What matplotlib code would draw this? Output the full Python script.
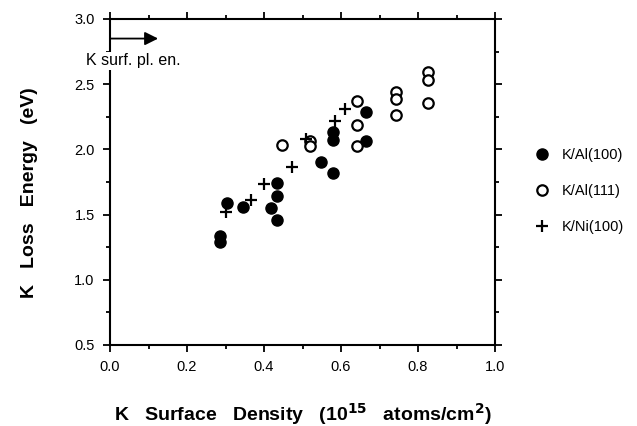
import matplotlib
matplotlib.use("Agg")
import matplotlib.pyplot as plt
from matplotlib.ticker import MultipleLocator, FormatStrFormatter

plt.rcParams['font.family'] = ['Liberation Sans', 'DejaVu Sans']

# K/Al(100): filled circles
al100_x = [0.286, 0.286, 0.303, 0.346, 0.418, 0.433, 0.433, 0.433,
           0.547, 0.578, 0.578, 0.578, 0.665, 0.665]
al100_y = [1.336, 1.292, 1.587, 1.561, 1.548, 1.745, 1.643, 1.459,
           1.903, 1.817, 2.136, 2.072, 2.285, 2.064]

# K/Al(111): open circles
al111_x = [0.448, 0.519, 0.519, 0.641, 0.641, 0.641, 0.742, 0.742, 0.742,
           0.827, 0.827, 0.827]
al111_y = [2.031, 2.065, 2.026, 2.371, 2.187, 2.026, 2.443, 2.384, 2.264,
           2.596, 2.532, 2.358]

# K/Ni(100): plus signs
ni100_x = [0.301, 0.365, 0.400, 0.472, 0.509, 0.584, 0.610]
ni100_y = [1.523, 1.612, 1.732, 1.863, 2.082, 2.218, 2.310]

surf_plasmon = 2.85  # K surface plasmon energy marker
labels = ['K/Al(100)', 'K/Al(111)', 'K/Ni(100)']

fig = plt.figure(figsize=(6.37, 4.26), dpi=100)
ax = fig.add_axes([110 / 637, 1 - 345 / 426, 385 / 637, 326 / 426])

ax.plot(al100_x, al100_y, 'o', color='black', ms=8, label=labels[0])
ax.plot(al111_x, al111_y, 'o', mfc='white', mec='black', mew=1.6, ms=7.5,
        label=labels[1])
ax.plot(ni100_x, ni100_y, '+', color='black', mew=1.6, ms=9, label=labels[2])

ax.annotate('', xy=(0.125, surf_plasmon), xytext=(0.0, surf_plasmon),
            arrowprops=dict(arrowstyle='-|>', color='black', lw=1.3,
                            mutation_scale=20, shrinkA=0, shrinkB=0))
ax.text(-0.062, 2.678, 'K surf. pl. en.', fontsize=11.5, ha='left', va='center',
        clip_on=False, zorder=5,
        bbox=dict(facecolor='white', edgecolor='none', pad=1))

ax.set_xlim(0.0, 1.0)
ax.set_ylim(0.5, 3.0)
ax.xaxis.set_major_locator(MultipleLocator(0.2))
ax.xaxis.set_minor_locator(MultipleLocator(0.1))
ax.yaxis.set_major_locator(MultipleLocator(0.5))
ax.yaxis.set_minor_locator(MultipleLocator(0.25))
ax.xaxis.set_major_formatter(FormatStrFormatter('%.1f'))
ax.yaxis.set_major_formatter(FormatStrFormatter('%.1f'))

for s in ax.spines.values():
    s.set_linewidth(1.5)
ax.tick_params(which='both', direction='out', top=True, right=True,
               width=1.3, labelsize=10.5)
ax.tick_params(which='major', length=5, pad=6)
ax.tick_params(which='minor', length=3)

ax.set_xlabel(r'K   Surface   Density   (10$^{\mathbf{15}}$   atoms/cm$^{\mathbf{2}}$)',
              fontsize=14, fontweight='bold')
ax.set_ylabel('K   Loss   Energy   (eV)', fontsize=14, fontweight='bold')
ax.xaxis.set_label_coords(0.5, -0.172)
ax.yaxis.set_label_coords(-0.187, 0.466)

ax.legend(loc='center left', bbox_to_anchor=(1.089, 0.472), frameon=False,
          fontsize=10.5, handlelength=1.0, handletextpad=0.8, labelspacing=1.5,
          borderaxespad=0, borderpad=0.4, numpoints=1)

fig.savefig('out.png', dpi=100)
